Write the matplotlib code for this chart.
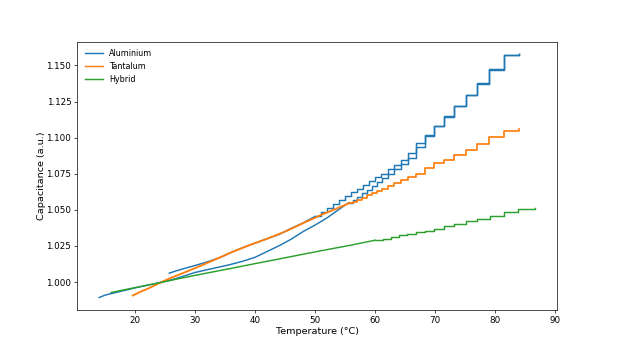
import matplotlib
matplotlib.use("Agg")
import matplotlib.pyplot as plt

# ---------------- data ----------------
# Aluminium, heating branch (smooth part then sampled/staircase part)
al_heat_T = [14.0, 15.0, 16.5, 18.0, 20.0, 22.0, 24.0, 26.0, 28.0, 30.0, 33.0, 35.7,
             38.0, 40.0, 42.0, 44.0, 46.0, 48.0, 50.0, 52.0, 53.5, 55.6]
al_heat_C = [0.9893, 0.9910, 0.9925, 0.9940, 0.9960, 0.9978, 0.9995, 1.0015, 1.0040,
             1.0067, 1.0095, 1.0120, 1.0145, 1.0172, 1.0212, 1.0252, 1.0297, 1.0350,
             1.0395, 1.0445, 1.0490, 1.0550]
step_T = [55.6, 56.3, 57.0, 57.8, 58.6, 59.4, 60.3, 61.2, 62.2, 63.2, 64.3, 65.5,
          66.8, 68.3, 69.8, 71.5, 73.2, 75.1, 77.0, 79.0, 81.5, 84.0]
al_heat_step_C = [1.0550, 1.0570, 1.0592, 1.0615, 1.0640, 1.0662, 1.0690, 1.0718,
                  1.0748, 1.0780, 1.0815, 1.0860, 1.0935, 1.1015, 1.1082, 1.1147,
                  1.1221, 1.1297, 1.1378, 1.1475, 1.1574, 1.1580]

# Aluminium, cooling branch
al_cool_T = [25.7, 27.0, 28.5, 30.0, 32.0, 34.0, 35.7, 38.0, 40.0, 42.3, 44.0, 46.0,
             48.0, 50.0]
al_cool_C = [1.0062, 1.0080, 1.0098, 1.0115, 1.0140, 1.0168, 1.0200, 1.0240, 1.0270,
             1.0305, 1.0330, 1.0372, 1.0410, 1.0455]
al_cool_step_T = [50.0, 51.0, 52.0, 53.0, 54.0, 55.0, 56.0, 57.0, 58.0, 59.0, 60.0,
                  61.0, 62.1, 63.2, 64.3, 65.5, 66.8, 68.3, 69.8, 71.5, 73.2, 75.1,
                  77.0, 79.0, 81.5, 84.0]
al_cool_step_C = [1.0455, 1.0482, 1.0510, 1.0540, 1.0568, 1.0595, 1.0622, 1.0648,
                  1.0675, 1.0702, 1.0728, 1.0752, 1.0780, 1.0812, 1.0848, 1.0895,
                  1.0965, 1.1020, 1.1078, 1.1143, 1.1217, 1.1293, 1.1374, 1.1470,
                  1.1570, 1.1578]

# Tantalum
ta_T = [19.6, 21.0, 22.5, 24.0, 26.0, 28.0, 30.0, 33.0, 36.0, 39.0, 42.3, 45.0,
        48.0, 51.0, 53.5, 55.6]
ta_C = [0.9907, 0.9935, 0.9962, 0.9993, 1.0030, 1.0063, 1.0097, 1.0150, 1.0205,
        1.0255, 1.0305, 1.0350, 1.0408, 1.0465, 1.0508, 1.0545]
ta_step_C = [1.0545, 1.0557, 1.0570, 1.0585, 1.0600, 1.0615, 1.0632, 1.0648, 1.0667,
             1.0686, 1.0706, 1.0728, 1.0752, 1.0790, 1.0822, 1.0847, 1.0882, 1.0916,
             1.0958, 1.1004, 1.1043, 1.1059]

# Hybrid
hy_T = [16.0, 20.0, 24.0, 28.0, 32.0, 36.0, 40.0, 44.0, 48.0, 52.0, 56.0, 60.0]
hy_C = [0.9928, 0.9962, 0.9995, 1.0030, 1.0063, 1.0095, 1.0128, 1.0160, 1.0193,
        1.0225, 1.0256, 1.0290]
hy_step_T = [60.0, 61.3, 62.6, 64.0, 65.3, 66.8, 68.3, 69.8, 71.5, 73.2, 75.1, 77.0,
             79.1, 81.5, 83.9, 86.7]
hy_step_C = [1.0290, 1.0300, 1.0311, 1.0323, 1.0334, 1.0346, 1.0357, 1.0371, 1.0385,
             1.0404, 1.0420, 1.0436, 1.0461, 1.0482, 1.0508, 1.0510]

# ---------------- plot ----------------
plt.rcParams["font.size"] = 11.2
fig, ax = plt.subplots(figsize=(10, 5.622), dpi=61.9)
c_al, c_ta, c_hy = "#1f77b4", "#ff7f0e", "#2ca02c"
lw = 1.7

ax.plot(al_heat_T, al_heat_C, color=c_al, lw=lw, label="Aluminium")
ax.plot(step_T, al_heat_step_C, color=c_al, lw=lw, drawstyle="steps-post")
ax.plot(al_cool_T, al_cool_C, color=c_al, lw=lw)
ax.plot(al_cool_step_T, al_cool_step_C, color=c_al, lw=lw, drawstyle="steps-post")

ax.plot(step_T, ta_step_C, color=c_ta, lw=2.0, drawstyle="steps-post", label="Tantalum")
ax.plot(ta_T, ta_C, color=c_ta, lw=2.2)

ax.plot(hy_T, hy_C, color=c_hy, lw=lw, label="Hybrid")
ax.plot(hy_step_T, hy_step_C, color=c_hy, lw=lw, drawstyle="steps-post")

ax.tick_params(labelsize=10.2)
ax.set_xlabel("Temperature (°C)", labelpad=2.5)
ax.set_ylabel("Capacitance (a.u.)", labelpad=0)
leg = ax.legend(loc="upper left", frameon=False, fontsize=9.3, handlelength=2.3)
for h in leg.legend_handles:
    h.set_linewidth(1.7)

fig.savefig("out.png", dpi=61.9)
